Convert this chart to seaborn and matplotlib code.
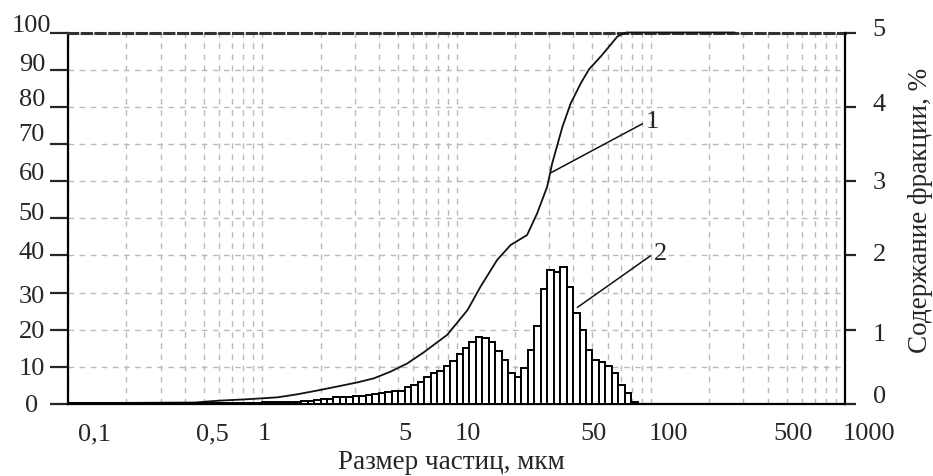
import numpy as np
import pandas as pd
import matplotlib
matplotlib.use("Agg")
import matplotlib.pyplot as plt
import matplotlib.transforms as mtransforms
from matplotlib.ticker import FixedLocator, LogLocator, NullFormatter
import seaborn as sns

# ---------------- data ----------------
# analyser channel edges, um
bin_edges_um = [
    0.1, 0.108, 0.1166, 0.1259, 0.1359, 0.1468, 0.1585, 0.1711, 0.1848, 0.1995,
    0.2154, 0.2326, 0.2512, 0.2712, 0.2929, 0.3162, 0.3415, 0.3687, 0.3981, 0.4299,
    0.4642, 0.5012, 0.5412, 0.5843, 0.631, 0.6813, 0.7356, 0.7943, 0.8577, 0.9261,
    1.0, 1.08, 1.166, 1.259, 1.359, 1.468, 1.585, 1.711, 1.848, 1.995,
    2.154, 2.326, 2.512, 2.712, 2.929, 3.162, 3.415, 3.687, 3.981, 4.299,
    4.642, 5.012, 5.412, 5.843, 6.31, 6.813, 7.356, 7.943, 8.577, 9.261,
    10.0, 10.8, 11.66, 12.59, 13.59, 14.68, 15.85, 17.11, 18.48, 19.95,
    21.54, 23.26, 25.12, 27.12, 29.29, 31.62, 34.15, 36.87, 39.81, 42.99,
    46.42, 50.12, 54.12, 58.43, 63.1, 68.13, 73.56, 79.43, 85.77,
]
# fraction content, % (right axis) - curve 2
fraction_pct = [
    0.015, 0.015, 0.015, 0.015,
    0.008, 0.008, 0.008, 0.008, 0.008, 0.008, 0.008, 0.008, 0.008, 0.008,
    0.008, 0.008, 0.008, 0.008, 0.008, 0.008, 0.008, 0.008, 0.008, 0.008,
    0.008, 0.008, 0.008, 0.008, 0.008, 0.008,
    0.03, 0.03, 0.03, 0.03, 0.03, 0.03,
    0.04, 0.04, 0.055, 0.065, 0.065, 0.09, 0.09, 0.10, 0.11, 0.11,
    0.12, 0.135, 0.145, 0.16, 0.18, 0.18, 0.235, 0.255, 0.30, 0.37,
    0.415, 0.45, 0.51, 0.58, 0.675, 0.75, 0.83, 0.905, 0.89, 0.84,
    0.715, 0.59, 0.42, 0.37, 0.49, 0.725, 1.05, 1.545, 1.805, 1.78,
    1.85, 1.58, 1.22, 0.995, 0.725, 0.59, 0.56, 0.515, 0.415, 0.255,
    0.145, 0.03,
]
# cumulative content, % (left axis) - curve 1
cum_size_um = [0.1, 0.2, 0.45, 0.5, 0.6, 0.85, 1.2, 1.51, 1.91, 2.43, 3.08, 3.75,
               4.57, 5.57, 6.78, 8.95, 11.4, 13.3, 16.2, 19.0, 23.1, 26.0, 29.3,
               31.1, 35.1, 38.7, 43.6, 48.1, 55.2, 61.0, 67.3, 72.8, 75.0, 270.0]
cum_pct = [0.3, 0.3, 0.4, 0.6, 0.9, 1.3, 1.8, 2.6, 3.6, 4.7, 5.8, 6.9,
           8.7, 10.9, 13.9, 18.6, 25.3, 31.6, 38.8, 42.8, 45.5, 51.3, 58.5,
           64.8, 74.6, 80.9, 86.3, 90.1, 93.5, 96.2, 98.9, 99.8, 100.0, 100.0]

x_tick_values = [0.1, 0.5, 1, 5, 10, 50, 100, 500, 1000]
x_tick_labels = ["0,1", "0,5", "1", "5", "10", "50", "100", "500", "1000"]
left_ticks = [0, 10, 20, 30, 40, 50, 60, 70, 80, 90, 100]
right_ticks = [0, 1, 2, 3, 4, 5]
x_label = "Размер частиц, мкм"
right_label = "Содержание фракции, %"
label_1 = "1"
label_2 = "2"

# ---------------- style ----------------
sns.set_style("white")
plt.rcParams["font.family"] = ["Liberation Serif", "DejaVu Serif"]
FS = 19
FS_LAB = 19.5
GRID = dict(color="#bababa", linestyle=(0, (4, 4)), linewidth=1.0)

fig = plt.figure(figsize=(9.33, 4.76), dpi=100)
W, H = 933, 476
ax = fig.add_axes([68 / W, (H - 404) / H, 777 / W, 371.5 / H])
ax.set_xscale("log")
ax2 = ax.twinx()
ax.set_xlim(0.1, 1000)
ax.set_ylim(0, 100)
ax2.set_ylim(0, 5)

# cumulative curve (1)
df_cum = pd.DataFrame({"size": cum_size_um, "pct": cum_pct})
sns.lineplot(data=df_cum, x="size", y="pct", ax=ax, color="#111111",
             linewidth=1.3, estimator=None, clip_on=False, zorder=3)

# histogram of fractions (2)
edges = np.asarray(bin_edges_um)
ax2.bar(edges[:-1], fraction_pct, width=np.diff(edges), align="edge",
        color="white", edgecolor="black", linewidth=1.4, zorder=2)

# grid
ax.xaxis.set_major_locator(FixedLocator(x_tick_values))
ax.xaxis.set_minor_locator(LogLocator(base=10, subs=np.arange(2, 10), numticks=30))
ax.xaxis.set_minor_formatter(NullFormatter())
ax.set_xticklabels(x_tick_labels)
ax.grid(True, which="both", axis="x", **GRID)
ax.grid(True, which="major", axis="y", **GRID)
ax.set_axisbelow(True)
ax2.grid(False)

ax.set_yticks(left_ticks)
ax.set_yticklabels([str(v) for v in left_ticks])
ax2.set_yticks(right_ticks)
ax2.set_yticklabels([str(v) for v in right_ticks])

ax.tick_params(axis="x", which="minor", length=0)
ax.tick_params(axis="x", which="major", length=3, width=1, pad=11,
               direction="out", labelsize=FS, color="#444444")
ax.tick_params(axis="y", which="major", length=13, width=1.6, pad=13,
               direction="out", labelsize=FS, left=True, right=False)
ax2.tick_params(axis="y", which="major", length=8, width=1.6, pad=12,
                direction="out", labelsize=FS, right=True)
for lab in ax.get_yticklabels():
    lab.set_horizontalalignment("center")

# spines
for s in ["left", "bottom"]:
    ax.spines[s].set_linewidth(1.6)
    ax.spines[s].set_color("black")
ax.spines["right"].set_visible(False)
ax.spines["top"].set_linestyle((0, (3, 1.5)))
ax.spines["top"].set_color("#333333")
ax.spines["top"].set_linewidth(2.2)
for s in ["left", "bottom", "top"]:
    ax2.spines[s].set_visible(False)
ax2.spines["right"].set_linewidth(1.6)
ax2.spines["right"].set_color("black")

# labels
ax.set_ylabel("")
ax.set_xlabel(x_label, fontsize=FS_LAB)
ax.xaxis.set_label_coords(0.494, -0.124)
ax2.set_ylabel(right_label, fontsize=FS_LAB)
ax2.yaxis.set_label_coords(1.081, 0.52)

# annotations
arrow = dict(arrowstyle="-", color="#111111", lw=1.1, shrinkA=0, shrinkB=0,
             relpos=(0, 0.5))
ax2.annotate(label_1, xy=(30.5, 62.2), xycoords=ax.transData,
             xytext=(94.2, 75.9), textcoords=ax.transData,
             ha="left", va="center", fontsize=FS, arrowprops=arrow)
ax2.annotate(label_2, xy=(41.9, 26.0), xycoords=ax.transData,
             xytext=(103.6, 40.5), textcoords=ax.transData,
             ha="left", va="center", fontsize=FS, arrowprops=arrow)

# per-label nudges to mimic reference placement
fig.canvas.draw()
def nudge(lab, dx, dy):
    lab.set_transform(lab.get_transform() +
                      mtransforms.ScaledTranslation(dx / 100, dy / 100, fig.dpi_scale_trans))

x_dx = [26, 9, 2, 7, 11, 1, 18, 7, 24]
for lab, dx in zip(ax.get_xticklabels(), x_dx):
    nudge(lab, dx, 0)
y_dy = [0, 0, 0, -2, 5, 7, 9.5, 11, 9, 7.5, 8.5]
for lab, dy in zip(ax.get_yticklabels(), y_dy):
    nudge(lab, 0, dy)
r_dy = [9.5, -3, 3, 1, 4, 4.5]
for lab, dy in zip(ax2.get_yticklabels(), r_dy):
    nudge(lab, 0, dy)

fig.savefig("out.png", dpi=100)
